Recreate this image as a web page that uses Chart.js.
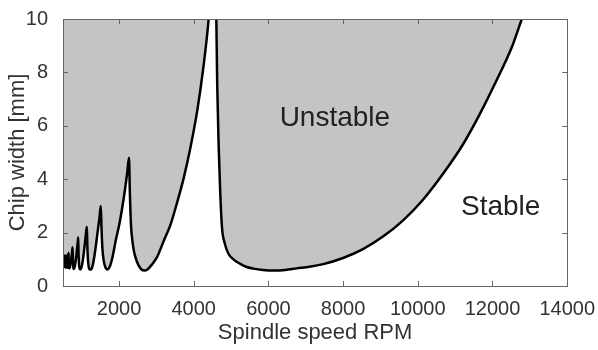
<!DOCTYPE html>
<html>
<head>
<meta charset="utf-8">
<script src="https://cdn.jsdelivr.net/npm/chart.js@4"></script>
<style>
  html, body { margin: 0; padding: 0; background: #fff; }
  #wrap { width: 598px; height: 350px; }
</style>
</head>
<body>
<div id="wrap"><canvas id="lobes"></canvas></div>
<script>
// stability lobe boundary: spindle speed (rpm) vs limiting chip width (mm)
const rpm = [
  500, 508, 516, 526, 536, 548, 560, 568, 578, 592, 605, 620, 634, 650, 662, 676, 700, 725, 745, 757,
  765, 775, 790, 810, 840, 870, 895, 907,
  915, 925, 940, 960, 990, 1030, 1070, 1110, 1139,
  1150, 1165, 1185, 1215, 1250, 1300, 1360, 1420, 1480, 1512,
  1530, 1555, 1590, 1630, 1690, 1750, 1820, 1912, 2020, 2133, 2220, 2267,
  2290, 2320, 2357, 2400, 2445, 2520, 2600, 2680, 2760, 2880, 3024, 3200, 3379, 3550, 3733, 3900, 4090, 4250, 4400, 4500, 4560,
  4605, 4630, 4667, 4710, 4757, 4830, 4933, 5080, 5245, 5400, 5600, 5850, 6133, 6450, 6757, 7100, 7467,
  8000, 8533, 9067, 9600, 10133, 10700, 11200, 11645, 12090, 12533, 12784, 13100
];
const chipWidth = [
  0.95, 1.12, 0.75, 1.1, 0.72, 1.15, 0.7, 1.12, 0.68, 1.08, 0.7, 1.18, 0.68, 1.25, 0.7, 0.66, 0.8, 1.05, 1.3, 1.45,
  1.0, 0.72, 0.64, 0.7, 0.95, 1.3, 1.65, 1.82,
  1.3, 0.9, 0.68, 0.62, 0.68, 0.95, 1.4, 1.9, 2.22,
  1.6, 1.05, 0.75, 0.62, 0.62, 0.8, 1.3, 1.95, 2.6, 3.0,
  2.2, 1.4, 0.95, 0.72, 0.62, 0.72, 1.05, 1.7, 2.4, 3.35, 4.25, 4.8,
  3.5, 2.3, 1.7, 1.3, 1.05, 0.78, 0.62, 0.58, 0.62, 0.8, 1.1, 1.7, 2.3, 3.1, 4.05, 5.1, 6.53, 8.1, 10, 12, 13,
  10, 7.5, 5.3, 3.5, 2.19, 1.6, 1.2, 0.98, 0.83, 0.72, 0.65, 0.6, 0.58, 0.6, 0.66, 0.72, 0.82,
  1.05, 1.38, 1.85, 2.45, 3.22, 4.25, 5.28, 6.4, 7.65, 9.0, 10, 11.3
];

const xTicks = [2000, 4000, 6000, 8000, 10000, 12000, 14000];
const yTicks = [0, 2, 4, 6, 8, 10];

// region labels, placed in data coordinates
const noteText = ["Unstable", "Stable"];
const noteX = [7780, 12220];
const noteY = [6.27, 2.94];

const points = rpm.map((r, i) => ({ x: r, y: chipWidth[i] }));

const FONT = "'Liberation Sans', Arial, sans-serif";

// box around the axes with small inward ticks on all four sides
const framePlugin = {
  id: "frame",
  afterDatasetsDraw(chart) {
    const { ctx, chartArea: a, scales } = chart;
    ctx.save();
    ctx.strokeStyle = "#666";
    ctx.lineWidth = 1;
    ctx.beginPath();
    xTicks.forEach(v => {
      const px = Math.round(scales.x.getPixelForValue(v)) + 0.5;
      ctx.moveTo(px, a.bottom); ctx.lineTo(px, a.bottom - 5);
      ctx.moveTo(px, a.top); ctx.lineTo(px, a.top + 5);
    });
    yTicks.forEach(v => {
      const py = Math.round(scales.y.getPixelForValue(v)) + 0.5;
      ctx.moveTo(a.left, py); ctx.lineTo(a.left + 5, py);
      ctx.moveTo(a.right, py); ctx.lineTo(a.right - 5, py);
    });
    ctx.stroke();
    ctx.strokeRect(Math.round(a.left) + 0.5, Math.round(a.top) + 0.5,
      Math.round(a.right - a.left), Math.round(a.bottom - a.top));

    ctx.fillStyle = "#222";
    ctx.font = "28px " + FONT;
    ctx.textAlign = "center";
    ctx.textBaseline = "middle";
    noteText.forEach((t, i) => {
      ctx.fillText(t, scales.x.getPixelForValue(noteX[i]), scales.y.getPixelForValue(noteY[i]));
    });
    ctx.restore();
  }
};

new Chart(document.getElementById("lobes"), {
  type: "line",
  data: {
    datasets: [{
      data: points,
      borderColor: "#000",
      borderWidth: 2.5,
      backgroundColor: "rgb(196,196,196)",
      fill: "end",
      pointRadius: 0,
      cubicInterpolationMode: "monotone",
    }]
  },
  options: {
    responsive: true,
    maintainAspectRatio: false,
    animation: false,
    events: [],
    layout: { padding: { left: 0, top: 17, right: 30, bottom: 0 } },
    plugins: { legend: { display: false }, tooltip: { enabled: false } },
    scales: {
      x: {
        type: "linear",
        min: 500,
        max: 14000,
        afterBuildTicks: s => { s.ticks = xTicks.map(v => ({ value: v })); },
        afterFit: s => { s.height = 64; },
        grid: { display: false },
        border: { display: false },
        ticks: {
          color: "#333",
          padding: 3,
          maxRotation: 0,
          callback: v => String(v),
          font: { family: FONT, size: 20 },
        },
        title: {
          display: true,
          text: "Spindle speed RPM",
          color: "#333",
          padding: { top: 0, bottom: 4 },
          font: { family: FONT, size: 22 },
        },
      },
      y: {
        min: 0,
        max: 10,
        afterBuildTicks: s => { s.ticks = yTicks.map(v => ({ value: v })); },
        afterFit: s => { s.width = 63; },
        grid: { display: false },
        border: { display: false },
        ticks: {
          color: "#333",
          padding: 7,
          callback: v => String(v),
          font: { family: FONT, size: 20 },
        },
        title: {
          display: true,
          text: "Chip width [mm]",
          color: "#333",
          padding: { top: 5, bottom: 0 },
          font: { family: FONT, size: 22 },
        },
      },
    },
  },
  plugins: [framePlugin],
});
</script>
</body>
</html>
